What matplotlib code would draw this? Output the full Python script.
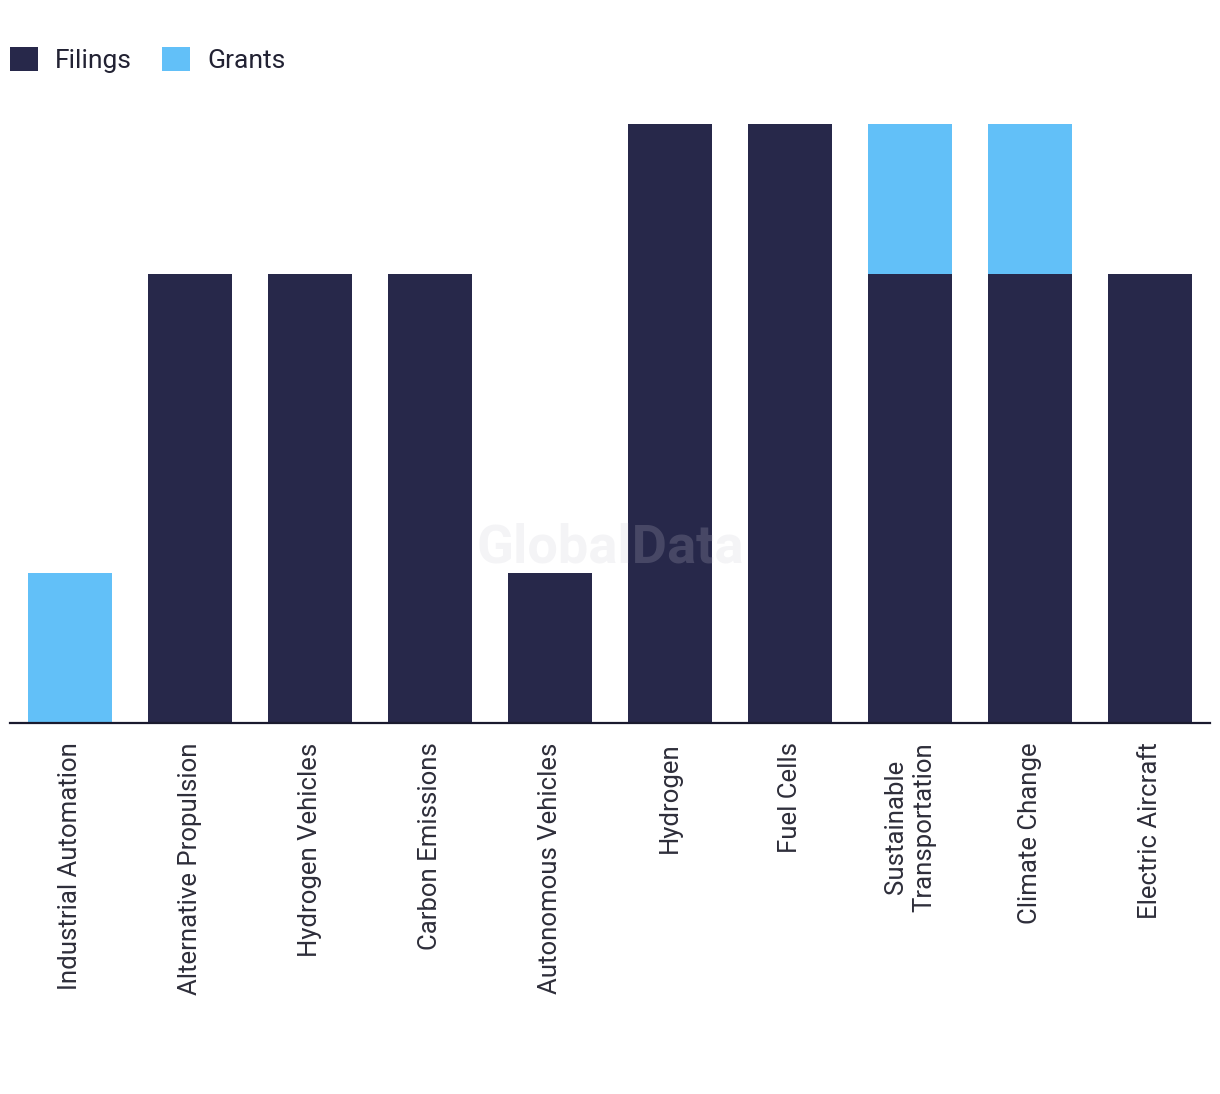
import matplotlib
matplotlib.use("Agg")
import matplotlib.pyplot as plt
from matplotlib.patches import Patch
import numpy as np

categories = ["Industrial Automation", "Alternative Propulsion", "Hydrogen Vehicles",
              "Carbon Emissions", "Autonomous Vehicles", "Hydrogen", "Fuel Cells",
              "Sustainable\nTransportation", "Climate Change", "Electric Aircraft"]
filings = [0, 3, 3, 3, 1, 4, 4, 3, 3, 3]
grants = [1, 0, 0, 0, 0, 0, 0, 1, 1, 0]

navy = "#27284A"
blue = "#62C0F8"

plt.rcParams['font.family'] = ['Roboto', 'DejaVu Sans']

W, H = 1220, 1094
fig = plt.figure(figsize=(W / 100, H / 100), dpi=100)
ax = fig.add_axes([10 / W, (H - 723) / H, 1200 / W, 599 / H])

x = np.arange(len(categories))
ax.bar(x, filings, width=0.7, color=navy, zorder=2)
ax.bar(x, grants, width=0.7, bottom=filings, color=blue, zorder=2)

ax.set_xlim(-0.5, len(categories) - 0.5)
ax.set_ylim(0, 4)
for s in ["top", "right", "left"]:
    ax.spines[s].set_visible(False)
ax.spines["bottom"].set_color("#1a1a2e")
ax.spines["bottom"].set_linewidth(1.6)
ax.set_yticks([])
ax.set_xticks(x)
ax.set_xticklabels(categories, rotation=90, fontsize=18.5, color="#2e2e3a",
                   ha="center", va="top", multialignment="center")
ax.tick_params(axis="x", length=0, pad=14)

fig.text(0.5, (H - 548) / H, "GlobalData", fontsize=39, fontweight="bold",
         color="#c8c8d4", alpha=0.2, ha="center", va="center", zorder=5)

handles = [Patch(facecolor=navy, label="Filings"), Patch(facecolor=blue, label="Grants")]
fig.legend(handles=handles, loc="center left", bbox_to_anchor=(10 / W, (H - 60) / H),
           ncol=2, frameon=False, fontsize=19, handlelength=1.06, handleheight=1.06,
           handletextpad=0.64, columnspacing=1.15, borderaxespad=0, borderpad=0,
           labelcolor="#222233")

fig.savefig("out.png", dpi=100)
